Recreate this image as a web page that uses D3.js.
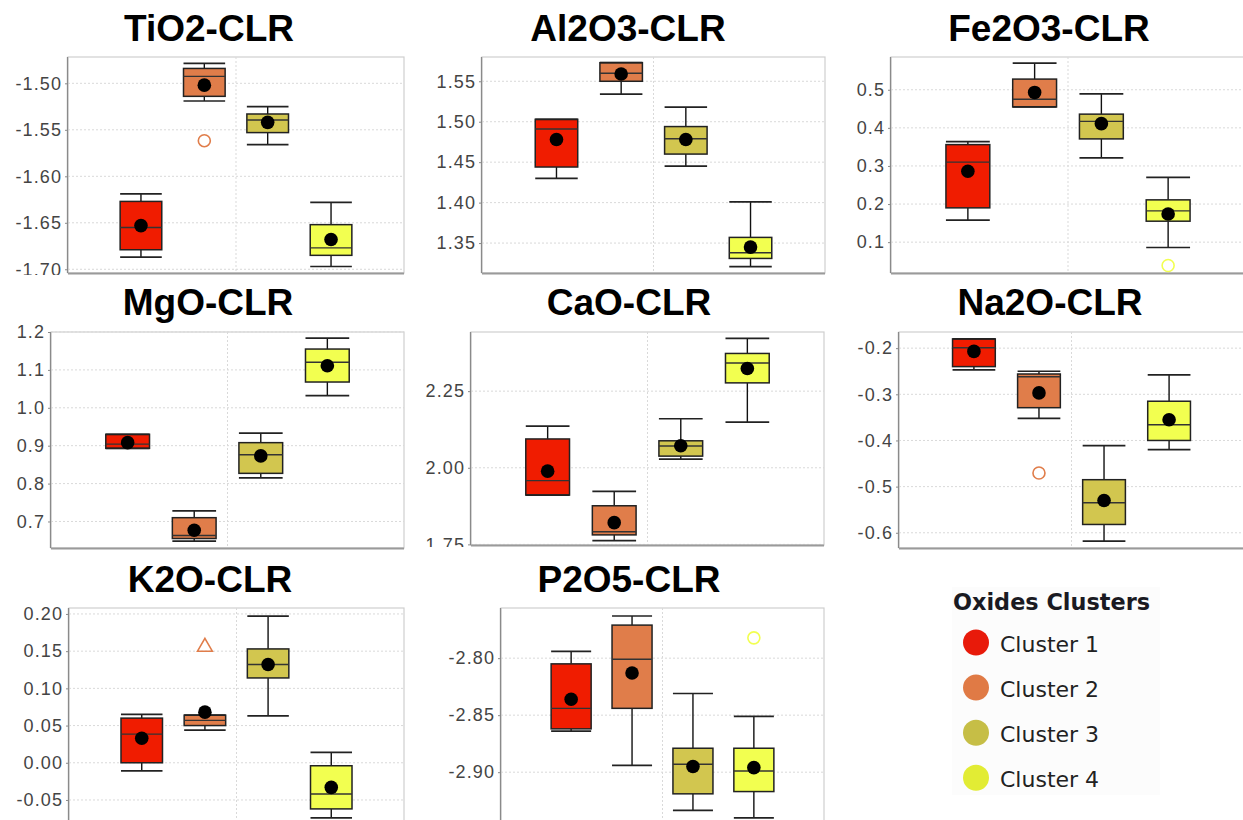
<!DOCTYPE html>
<html>
<head>
<meta charset="utf-8">
<script src="https://cdn.jsdelivr.net/npm/d3@7"></script>
<style>
  body { margin: 0; background: #fff; }
  svg { display: block; }
</style>
</head>
<body>
<svg id="chart" width="1243" height="820"></svg>
<script>
// clusters and colours
const clusters = ["Cluster 1", "Cluster 2", "Cluster 3", "Cluster 4"];
const boxColors = ["#f01c00", "#e07d4a", "#d2c64f", "#f2ff50"];
const legendColors = ["#e81a0a", "#e07a45", "#c6be46", "#e2ec34"];

const oxides = ["TiO2-CLR", "Al2O3-CLR", "Fe2O3-CLR", "MgO-CLR", "CaO-CLR", "Na2O-CLR", "K2O-CLR", "P2O5-CLR"];

// one row per cluster: [whisker low, q1, median, q3, whisker high, mean]
const tio2 = [[-1.687, -1.679, -1.655, -1.627, -1.619, -1.653],
              [-1.519, -1.514, -1.4925, -1.484, -1.4785, -1.502],
              [-1.566, -1.553, -1.5395, -1.533, -1.525, -1.542],
              [-1.697, -1.685, -1.677, -1.652, -1.628, -1.668]];
const al2o3 = [[1.430, 1.444, 1.491, 1.503, 1.503, 1.478],
               [1.534, 1.550, 1.560, 1.573, 1.573, 1.559],
               [1.445, 1.460, 1.479, 1.494, 1.518, 1.478],
               [1.321, 1.331, 1.338, 1.357, 1.401, 1.345]];
const fe2o3 = [[0.158, 0.190, 0.310, 0.356, 0.364, 0.286],
               [0.455, 0.455, 0.475, 0.528, 0.570, 0.493],
               [0.321, 0.371, 0.417, 0.436, 0.489, 0.411],
               [0.086, 0.155, 0.182, 0.211, 0.270, 0.174]];
const mgo = [[0.893, 0.893, 0.904, 0.930, 0.930, 0.908],
             [0.648, 0.655, 0.663, 0.710, 0.728, 0.677],
             [0.815, 0.827, 0.876, 0.908, 0.933, 0.873],
             [1.032, 1.068, 1.120, 1.155, 1.184, 1.111]];
const cao = [[1.911, 1.911, 1.958, 2.094, 2.136, 1.989],
             [1.762, 1.781, 1.791, 1.876, 1.923, 1.821],
             [2.028, 2.038, 2.071, 2.088, 2.160, 2.072],
             [2.149, 2.277, 2.342, 2.373, 2.422, 2.324]];
const na2o = [[-0.247, -0.240, -0.199, -0.180, -0.180, -0.207],
              [-0.352, -0.329, -0.262, -0.256, -0.250, -0.297],
              [-0.618, -0.582, -0.535, -0.485, -0.411, -0.530],
              [-0.420, -0.400, -0.366, -0.315, -0.258, -0.355]];
const k2o = [[-0.011, 0.000, 0.0385, 0.060, 0.065, 0.033],
             [0.044, 0.050, 0.057, 0.064, 0.064, 0.068],
             [0.063, 0.114, 0.132, 0.153, 0.197, 0.132],
             [-0.074, -0.062, -0.042, -0.004, 0.014, -0.033]];
const p2o5 = [[-2.864, -2.862, -2.844, -2.805, -2.794, -2.836],
              [-2.894, -2.844, -2.801, -2.771, -2.763, -2.813],
              [-2.9335, -2.919, -2.893, -2.879, -2.831, -2.895],
              [-2.940, -2.917, -2.899, -2.879, -2.851, -2.896]];

// outliers
const outlierOxide = ["TiO2-CLR", "Fe2O3-CLR", "Na2O-CLR", "K2O-CLR", "P2O5-CLR"];
const outlierCluster = ["Cluster 2", "Cluster 4", "Cluster 2", "Cluster 2", "Cluster 4"];
const outlierValue = [-1.5617, 0.0388, -0.4706, 0.1557, -2.7822];
const outlierShape = ["circle", "circle", "circle", "triangle", "circle"];

// axis ranges and ticks
const yDomains = [[-1.704, -1.4717], [1.313, 1.580], [0.019, 0.586], [0.630, 1.2],
                  [1.748, 2.443], [-0.633, -0.165], [-0.0796, 0.208], [-2.9437, -2.756]];
const tickValues = [[-1.70, -1.65, -1.60, -1.55, -1.50],
                    [1.35, 1.40, 1.45, 1.50, 1.55],
                    [0.1, 0.2, 0.3, 0.4, 0.5],
                    [0.7, 0.8, 0.9, 1.0, 1.1, 1.2],
                    [1.75, 2.00, 2.25],
                    [-0.6, -0.5, -0.4, -0.3, -0.2],
                    [-0.05, 0.00, 0.05, 0.10, 0.15, 0.20],
                    [-2.90, -2.85, -2.80]];
const tickDecimals = [2, 2, 1, 1, 2, 1, 2, 2];

const allStats = [tio2, al2o3, fe2o3, mgo, cao, na2o, k2o, p2o5];

// panel layout: plot area and title position
const layout = [
  { x0: 68, x1: 404, y0: 57, y1: 273, tx: 209, ty: 41 },
  { x0: 482, x1: 825, y0: 57, y1: 273, tx: 628, ty: 41 },
  { x0: 891, x1: 1245, y0: 57, y1: 273, tx: 1049, ty: 41 },
  { x0: 51, x1: 404, y0: 332, y1: 548, tx: 208, ty: 315 },
  { x0: 471, x1: 824, y0: 332, y1: 545, tx: 629, ty: 315 },
  { x0: 899, x1: 1244, y0: 332, y1: 548, tx: 1050, ty: 315 },
  { x0: 69, x1: 404, y0: 608, y1: 822, tx: 210, ty: 592 },
  { x0: 501, x1: 824, y0: 608, y1: 822, tx: 629, ty: 592 }
];

const svg = d3.select("#chart");
const defs = svg.append("defs");

oxides.forEach(function (name, i) {
  const p = layout[i];
  const stats = allStats[i];

  const x = d3.scaleBand()
    .domain(clusters)
    .range([p.x0, p.x1])
    .paddingInner(0.343)
    .paddingOuter(0.823);

  const y = d3.scaleLinear()
    .domain(yDomains[i])
    .range([p.y1, p.y0]);

  // each chart is a separate picture cut at its bottom
  defs.append("clipPath").attr("id", "clip" + i)
    .append("rect")
    .attr("x", p.x0 - 75).attr("y", p.y0 - 70)
    .attr("width", p.x1 - p.x0 + 77).attr("height", p.y1 - p.y0 + 72);

  const g = svg.append("g").attr("clip-path", "url(#clip" + i + ")");

  // title
  g.append("text")
    .attr("x", p.tx).attr("y", p.ty)
    .attr("text-anchor", "middle")
    .style("font-family", "'Liberation Sans', Arial, sans-serif")
    .style("font-weight", "bold")
    .style("font-size", "37px")
    .attr("fill", "#000")
    .text(name);

  // plot background + outline
  g.append("rect")
    .attr("x", p.x0).attr("y", p.y0)
    .attr("width", p.x1 - p.x0).attr("height", p.y1 - p.y0)
    .attr("fill", "#fff")
    .attr("stroke", "#cfcfcf").attr("stroke-width", 1.2);

  // horizontal gridlines
  g.selectAll(".hgrid")
    .data(tickValues[i])
    .enter()
    .append("line")
    .attr("x1", p.x0).attr("x2", p.x1)
    .attr("y1", function (d) { return y(d); })
    .attr("y2", function (d) { return y(d); })
    .attr("stroke", "#d9d9d9")
    .attr("stroke-dasharray", "2,2");

  // vertical gridline at the category centre
  g.append("line")
    .attr("x1", (p.x0 + p.x1) / 2).attr("x2", (p.x0 + p.x1) / 2)
    .attr("y1", p.y0).attr("y2", p.y1)
    .attr("stroke", "#d9d9d9")
    .attr("stroke-dasharray", "2,2");

  // y axis
  const yAxis = d3.axisLeft(y)
    .tickValues(tickValues[i])
    .tickSize(3)
    .tickPadding(3)
    .tickFormat(function (d) { return d.toFixed(tickDecimals[i]); });

  const ax = g.append("g")
    .attr("transform", `translate(${p.x0}, 0)`)
    .call(yAxis);
  ax.select(".domain").attr("stroke", "#8a8a8a").attr("stroke-width", 1.3)
    .attr("d", `M-0.5,${p.y0}V${p.y1}`);
  ax.selectAll(".tick line").attr("stroke", "#8a8a8a");
  ax.selectAll(".tick text")
    .attr("fill", "#444")
    .style("font-family", "'Liberation Sans', Arial, sans-serif")
    .style("font-size", "18px")
    .style("letter-spacing", "1.1px");

  // bottom axis line
  g.append("line")
    .attr("x1", p.x0).attr("x2", p.x1)
    .attr("y1", p.y1 + 0.5).attr("y2", p.y1 + 0.5)
    .attr("stroke", "#9a9a9a").attr("stroke-width", 2);

  // boxes
  const boxes = g.selectAll(".box")
    .data(stats)
    .enter()
    .append("g")
    .attr("class", "box");

  const cx = function (d, j) { return x(clusters[j]) + x.bandwidth() / 2; };
  const bw = x.bandwidth();

  // whisker stems
  boxes.append("line")
    .attr("x1", cx).attr("x2", cx)
    .attr("y1", function (d) { return y(d[4]); })
    .attr("y2", function (d) { return y(d[3]); })
    .attr("stroke", "#111").attr("stroke-width", 1.4);
  boxes.append("line")
    .attr("x1", cx).attr("x2", cx)
    .attr("y1", function (d) { return y(d[1]); })
    .attr("y2", function (d) { return y(d[0]); })
    .attr("stroke", "#111").attr("stroke-width", 1.4);

  // box
  boxes.append("rect")
    .attr("x", function (d, j) { return x(clusters[j]); })
    .attr("y", function (d) { return y(d[3]); })
    .attr("width", bw)
    .attr("height", function (d) { return Math.max(1, y(d[1]) - y(d[3])); })
    .attr("fill", function (d, j) { return boxColors[j]; })
    .attr("stroke", "#222").attr("stroke-width", 1.5);

  // caps
  [0, 4].forEach(function (k) {
    boxes.append("line")
      .attr("x1", function (d, j) { return x(clusters[j]); })
      .attr("x2", function (d, j) { return x(clusters[j]) + bw; })
      .attr("y1", function (d) { return y(d[k]); })
      .attr("y2", function (d) { return y(d[k]); })
      .attr("stroke", "#222").attr("stroke-width", 1.7);
  });

  // median
  boxes.append("line")
    .attr("x1", function (d, j) { return x(clusters[j]); })
    .attr("x2", function (d, j) { return x(clusters[j]) + bw; })
    .attr("y1", function (d) { return y(d[2]); })
    .attr("y2", function (d) { return y(d[2]); })
    .attr("stroke", "#333").attr("stroke-width", 1.4);

  // mean
  boxes.append("circle")
    .attr("cx", cx)
    .attr("cy", function (d) { return y(d[5]); })
    .attr("r", 6.8)
    .attr("fill", "#000");

  // outliers
  outlierOxide.forEach(function (o, k) {
    if (o !== name) return;
    const j = clusters.indexOf(outlierCluster[k]);
    const ox = x(outlierCluster[k]) + bw / 2;
    const oy = y(outlierValue[k]);
    if (outlierShape[k] === "triangle") {
      g.append("path")
        .attr("d", d3.symbol(d3.symbolTriangle, 95)())
        .attr("transform", `translate(${ox}, ${oy})`)
        .attr("fill", "none")
        .attr("stroke", boxColors[j]).attr("stroke-width", 1.6);
    } else {
      g.append("circle")
        .attr("cx", ox).attr("cy", oy).attr("r", 6)
        .attr("fill", "none")
        .attr("stroke", boxColors[j]).attr("stroke-width", 1.6);
    }
  });
});

// legend
const legend = svg.append("g");
legend.append("rect")
  .attr("x", 952).attr("y", 587)
  .attr("width", 208).attr("height", 208)
  .attr("fill", "#fcfcfc");

legend.append("text")
  .attr("x", 953).attr("y", 610)
  .attr("textLength", 197)
  .attr("lengthAdjust", "spacingAndGlyphs")
  .style("font-family", "'DejaVu Sans', Verdana, sans-serif")
  .style("font-weight", "bold")
  .style("font-size", "23px")
  .attr("fill", "#1a1a22")
  .text("Oxides Clusters");

const items = legend.selectAll(".item")
  .data(clusters)
  .enter()
  .append("g")
  .attr("transform", function (d, j) { return `translate(0, ${642.5 + j * 45.1})`; });

items.append("circle")
  .attr("cx", 976).attr("cy", 0).attr("r", 13)
  .attr("fill", function (d, j) { return legendColors[j]; });

items.append("text")
  .attr("x", 1000).attr("y", 9)
  .style("font-family", "'DejaVu Sans', Verdana, sans-serif")
  .style("font-size", "22px")
  .attr("fill", "#222")
  .text(function (d) { return d; });
</script>
</body>
</html>
